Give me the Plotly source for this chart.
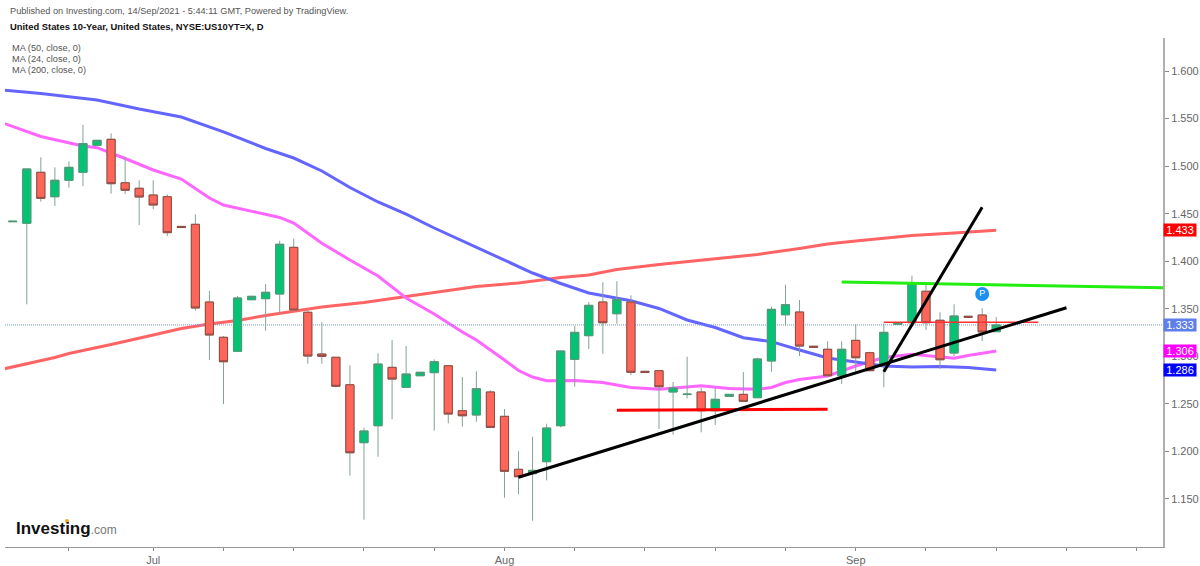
#!/usr/bin/env python3
# -*- coding: utf-8 -*-
import plotly.graph_objects as go

# daily candles, values
open_list = [1.4415, 1.4399, 1.4935, 1.4678, 1.4851, 1.4935, 1.5219, 1.5282, 1.4825, 1.4767,
             1.4696, 1.4678, 1.4366, 1.4388, 1.3571, 1.3200, 1.3053, 1.3595, 1.3606, 1.3655,
             1.4146, 1.3463, 1.3024, 1.2990, 1.2701, 1.2092, 1.2270, 1.2884, 1.2674, 1.2796,
             1.2828, 1.2901, 1.2428, 1.2383, 1.2625, 1.2369, 1.1812, 1.1766, 1.1892, 1.2270,
             1.2968, 1.3217, 1.3571, 1.3448, 1.3571, 1.2842, 1.2849, 1.2625, 1.2598, 1.2625,
             1.2428, 1.2579, 1.2600, 1.2565, 1.2951, 1.3437, 1.3466, 1.3106, 1.3074, 1.2796,
             1.3168, 1.3038, 1.2916, 1.3337, 1.3353, 1.3684, 1.3379, 1.3035, 1.3421, 1.3434,
             1.3259]
high_list = [1.4420, 1.4970, 1.5093, 1.4987, 1.5050, 1.5435, 1.5271, 1.5345, 1.5099, 1.4851,
             1.4851, 1.4703, 1.4366, 1.4493, 1.3687, 1.3214, 1.3634, 1.3631, 1.3760, 1.4216,
             1.4237, 1.3487, 1.3358, 1.2990, 1.2905, 1.2249, 1.3032, 1.3171, 1.3108, 1.2832,
             1.2968, 1.2901, 1.2782, 1.2842, 1.2642, 1.2446, 1.2001, 1.2155, 1.2291, 1.3056,
             1.3319, 1.3571, 1.3778, 1.3789, 1.3641, 1.2842, 1.2849, 1.2730, 1.2996, 1.2667,
             1.2670, 1.2600, 1.2835, 1.2985, 1.3522, 1.3753, 1.3592, 1.3106, 1.3158, 1.3158,
             1.3337, 1.3048, 1.3347, 1.3353, 1.3848, 1.3768, 1.3463, 1.3547, 1.3421, 1.3505,
             1.3413]
low_list = [1.4415, 1.3547, 1.4626, 1.4580, 1.4773, 1.4791, 1.5219, 1.4710, 1.4707, 1.4381,
            1.4546, 1.4265, 1.4354, 1.3480, 1.2961, 1.2498, 1.3053, 1.3595, 1.3269, 1.3442,
            1.3480, 1.2922, 1.2922, 1.2674, 1.1745, 1.1282, 1.1944, 1.2338, 1.2674, 1.2796,
            1.2218, 1.2296, 1.2260, 1.2312, 1.2248, 1.1513, 1.1549, 1.1271, 1.1696, 1.2253,
            1.2680, 1.3077, 1.3027, 1.3343, 1.2803, 1.2832, 1.2236, 1.2176, 1.2558, 1.2201,
            1.2278, 1.2579, 1.2527, 1.2565, 1.2838, 1.3322, 1.3003, 1.3095, 1.2796, 1.2709,
            1.2838, 1.2842, 1.2674, 1.3337, 1.3353, 1.3277, 1.2870, 1.3003, 1.3411, 1.3161,
            1.3259]
close_list = [1.4420, 1.4970, 1.4661, 1.4851, 1.4987, 1.5236, 1.5271, 1.4815, 1.4746, 1.4675,
              1.4591, 1.4300, 1.4354, 1.3508, 1.3224, 1.2943, 1.3613, 1.3631, 1.3673, 1.4178,
              1.3487, 1.3003, 1.3000, 1.2685, 1.1986, 1.2215, 1.2919, 1.2761, 1.2814, 1.2832,
              1.2943, 1.2393, 1.2375, 1.2659, 1.2253, 1.1791, 1.1734, 1.1801, 1.2246, 1.3056,
              1.3252, 1.3536, 1.3353, 1.3599, 1.2832, 1.2832, 1.2680, 1.2667, 1.2602, 1.2428,
              1.2548, 1.2600, 1.2527, 1.2972, 1.3494, 1.3543, 1.3108, 1.3095, 1.2796, 1.3074,
              1.2985, 1.2849, 1.3252, 1.3353, 1.3768, 1.3353, 1.2964, 1.3424, 1.3411, 1.3256,
              1.3330]
day_list = list(range(len(close_list)))

# moving averages, sampled at the bars where the line bends
ma50_days = [-1, 2, 6, 9, 12, 15, 18, 20, 22, 24, 26, 28, 30, 32, 34, 35, 37, 39, 41, 44, 46, 48,
             50, 52, 54, 56, 58, 60, 62, 64, 66, 68, 70]
ma50_list = [1.5805, 1.5763, 1.5695, 1.5600, 1.5516, 1.5359, 1.5185, 1.5085, 1.4949, 1.4775, 1.4623,
             1.4496, 1.4349, 1.4212, 1.4076, 1.4013, 1.3876, 1.3766, 1.3666, 1.3585, 1.3503, 1.3382,
             1.3303, 1.3196, 1.3154, 1.3066, 1.2982, 1.2940, 1.2898, 1.2888, 1.2893, 1.2882, 1.2856]
ma24_days = [-1, 2, 5, 6, 8, 10, 12, 14, 15, 17, 19, 20, 22, 24, 26, 28, 30, 32, 33, 35, 36, 37, 38,
             40, 42, 44, 46, 48, 49, 51, 53, 54, 55, 56, 58, 60, 62, 64, 66, 67, 68, 70]
ma24_list = [1.5469, 1.5311, 1.5211, 1.5194, 1.5080, 1.4959, 1.4864, 1.4665, 1.4591, 1.4528, 1.4460,
             1.4402, 1.4188, 1.4013, 1.3844, 1.3613, 1.3445, 1.3256, 1.3171, 1.2961, 1.2851, 1.2782,
             1.2744, 1.2746, 1.2725, 1.2672, 1.2653, 1.2677, 1.2691, 1.2661, 1.2653, 1.2672, 1.2725,
             1.2756, 1.2793, 1.2898, 1.2987, 1.3021, 1.2993, 1.2979, 1.3008, 1.3056]
ma200_days = [-1, 1, 3, 4, 6, 7, 10, 12, 14, 16, 18, 20, 22, 25, 27, 30, 33, 36, 39, 41, 43, 46, 49,
              53, 56, 58, 60, 62, 64, 67, 70]
ma200_list = [1.2856, 1.2924, 1.2987, 1.3030, 1.3098, 1.3124, 1.3224, 1.3292, 1.3340, 1.3377, 1.3429,
              1.3476, 1.3518, 1.3566, 1.3608, 1.3676, 1.3734, 1.3771, 1.3829, 1.3855, 1.3913, 1.3965,
              1.4013, 1.4071, 1.4134, 1.4181, 1.4212, 1.4244, 1.4270, 1.4297, 1.4325]

# hand drawn trend lines: days, then prices
trend_black1_days = [36, 75]
trend_black1 = [1.1728, 1.3511]
trend_black2_days = [62, 69]
trend_black2 = [1.2838, 1.4567]
trend_green_days = [59, 81.9]
trend_green = [1.3781, 1.3721]
trend_red_days = [43, 58]
trend_red = [1.2432, 1.2443]
trend_thin_days = [62, 73]
trend_thin = [1.3358, 1.3358]

x_tick_days = [4, 10, 15, 20, 25, 30, 35, 40, 45, 50, 55, 60, 65, 70, 75, 80]
x_tick_labels = ["", "Jul", "", "", "", "", "Aug", "", "", "", "", "Sep", "", "", "", ""]
y_tick_vals = [1.15, 1.20, 1.25, 1.30, 1.35, 1.40, 1.45, 1.50, 1.55, 1.60]

x_range = [-0.55, 81.87]
y_range = [1.0995, 1.6347]

last_price = 1.333
price_tags = [(1.433, "#ff0000"), (last_price, "#5f7fe8"), (1.306, "#ff00ff"), (1.286, "#0000ff")]

legend_labels = ["MA (50, close, 0)", "MA (24, close, 0)", "MA (200, close, 0)"]

UP = "#05c275"
DOWN = "#ff6659"
WICK = "#84a394"
FONT = "Liberation Sans"

fig = go.Figure()

# MAs sit on the base axes so that the candles, on the overlay axes, cover them
fig.add_trace(go.Scatter(x=ma200_days, y=ma200_list, mode="lines", line=dict(color="#ff6464", width=3)))
fig.add_trace(go.Scatter(x=ma24_days, y=ma24_list, mode="lines", line=dict(color="#ff66ff", width=3)))
fig.add_trace(go.Scatter(x=ma50_days, y=ma50_list, mode="lines", line=dict(color="#6464ff", width=3)))
fig.add_trace(
    go.Scatter(
        x=x_range,
        y=[last_price, last_price],
        mode="lines",
        line=dict(color="#6f90f0", width=1, dash="1px,1px"),
    )
)

# wicks first, then the bodies with their darker border
fig.add_trace(
    go.Candlestick(
        x=day_list,
        open=open_list,
        high=high_list,
        low=low_list,
        close=close_list,
        increasing=dict(line=dict(color=WICK, width=1), fillcolor=UP),
        decreasing=dict(line=dict(color=WICK, width=1), fillcolor=DOWN),
        xaxis="x2",
        yaxis="y2",
    )
)
body_top = [max(o, c) for o, c in zip(open_list, close_list)]
body_bottom = [min(o, c) for o, c in zip(open_list, close_list)]
fig.add_trace(
    go.Candlestick(
        x=day_list,
        open=open_list,
        high=body_top,
        low=body_bottom,
        close=close_list,
        increasing=dict(line=dict(color="#4f9a78", width=1), fillcolor=UP),
        decreasing=dict(line=dict(color="#8f4a42", width=1), fillcolor=DOWN),
        xaxis="x2",
        yaxis="y2",
    )
)

for days, vals, color, width in [
    (trend_red_days, trend_red, "#ff0000", 3),
    (trend_thin_days, trend_thin, "#ff3030", 1.5),
    (trend_green_days, trend_green, "#22ee11", 3),
    (trend_black1_days, trend_black1, "#000000", 3),
    (trend_black2_days, trend_black2, "#000000", 3),
]:
    fig.add_trace(
        go.Scatter(x=days, y=vals, mode="lines", line=dict(color=color, width=width), xaxis="x2", yaxis="y2")
    )

# the "P" published marker
fig.add_trace(
    go.Scatter(
        x=[69],
        y=[1.3655],
        mode="markers+text",
        marker=dict(color="#1e90f0", size=14),
        text=["P"],
        textposition="middle center",
        textfont=dict(color="white", size=9, family=FONT),
        xaxis="x2",
        yaxis="y2",
    )
)

fig.update_layout(
    width=1200,
    height=566,
    # annotations outside the plot must not push the margins
    margin=dict(l=5, r=37, t=38, b=19, autoexpand=False),
    paper_bgcolor="white",
    plot_bgcolor="white",
    showlegend=False,
    boxmode="overlay",
    boxgap=0.42,
    boxgroupgap=0,
    font=dict(family=FONT, size=11, color="#666666"),
    xaxis=dict(
        range=x_range,
        tickmode="array",
        tickvals=x_tick_days,
        ticktext=x_tick_labels,
        ticks="outside",
        ticklen=3,
        tickcolor="#888888",
        showgrid=False,
        zeroline=False,
        showline=True,
        linecolor="#999999",
        linewidth=1,
        rangeslider=dict(visible=False),
    ),
    yaxis=dict(
        range=y_range,
        side="right",
        tickmode="array",
        tickvals=y_tick_vals,
        tickformat=".3f",
        ticks="outside",
        ticklen=4,
        tickcolor="#888888",
        showgrid=False,
        zeroline=False,
        showline=True,
        linecolor="#b0b0b0",
        linewidth=2,
    ),
    xaxis2=dict(overlaying="x", range=x_range, visible=False, rangeslider=dict(visible=False)),
    yaxis2=dict(overlaying="y", range=y_range, visible=False),
)

for value, color in price_tags:
    fig.add_annotation(
        x=1.0,
        xref="paper",
        y=value,
        yref="y",
        xanchor="left",
        yanchor="middle",
        text=f"{value:.3f}",
        showarrow=False,
        bgcolor=color,
        width=32,
        height=12,
        borderpad=0,
        font=dict(color="white", size=11, family=FONT),
    )

plot_w = 1200 - 5 - 37
plot_h = 566 - 38 - 19


def page_label(text, px, py, size, color):
    # header texts and logo are placed by page pixel
    fig.add_annotation(
        x=(px - 5) / plot_w,
        y=(547 - py) / plot_h,
        xref="paper",
        yref="paper",
        xanchor="left",
        yanchor="middle",
        text=text,
        showarrow=False,
        borderpad=0,
        font=dict(size=size, color=color, family=FONT),
    )


page_label("Published on Investing.com, 14/Sep/2021 - 5:44:11 GMT, Powered by TradingView.", 9, 11, 9.2, "#555555")
page_label("<b>United States 10-Year, United States, NYSE:US10YT=X, D</b>", 9, 26, 9.4, "#111111")
for k, label in enumerate(legend_labels):
    page_label(label, 11, 48 + 11 * k, 9.2, "#555555")
page_label(
    '<b>Investing</b><span style="color:#777777;font-size:12px">.com</span>',
    15,
    528,
    17,
    "#111111",
)
# orange dot on the logo's i
fig.add_shape(
    type="circle",
    xref="paper",
    yref="paper",
    x0=(65 - 5) / plot_w,
    x1=(69 - 5) / plot_w,
    y0=(547 - 523) / plot_h,
    y1=(547 - 519) / plot_h,
    fillcolor="#f7a21b",
    line=dict(width=0),
)

# no page margin, the plot has to start at the corner of the window
fig.write_html("out.html", config={"displayModeBar": False}, post_script="document.body.style.margin='0';")
